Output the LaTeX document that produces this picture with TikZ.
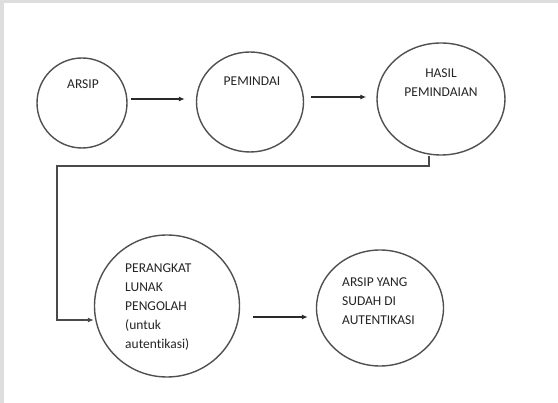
\documentclass[tikz,border=0pt]{standalone}
\usepackage{fontspec}
\setmainfont[Ligatures=NoCommon]{Carlito}
\usetikzlibrary{shapes.geometric,arrows.meta}
\definecolor{circgray}{HTML}{505050}
\definecolor{txtgray}{HTML}{252525}
\definecolor{arrgray}{HTML}{2A2A2A}
\definecolor{framegray}{HTML}{DEDEDE}
\begin{document}
\begin{tikzpicture}[x=1pt,y=-1pt,
  circ/.style={ellipse,draw=circgray,line width=1.4pt,inner sep=0pt},
  lbl/.style={inner sep=0pt,text=txtgray,font=\fontsize{13.5}{19}\selectfont},
  arr/.style={draw=arrgray,line width=1.6pt,-{Latex[length=6pt,width=5pt]}},
  link/.style={draw=arrgray!85,line width=1.8pt,-{Latex[length=6pt,width=5pt]}}]
\useasboundingbox (0,0) rectangle (558,403);
\fill[white] (0,0) rectangle (558,403);
\fill[framegray] (0,0) rectangle (558,3);
\fill[framegray] (0,0) rectangle (4,403);

% circles
\node[circ,minimum width=90pt,minimum height=90pt] (arsip) at (82,103) {};
\node[circ,minimum width=107pt,minimum height=100pt] (pemindai) at (250,102) {};
\node[circ,minimum width=128pt,minimum height=112pt] (hasil) at (441,99) {};
\node[circ,minimum width=145pt,minimum height=142pt] (perangkat) at (167,306) {};
\node[circ,minimum width=127pt,minimum height=116pt] (sudah) at (380,308) {};

% texts
\node[lbl,anchor=north] (tarsip) at (83,79.7) {ARSIP};
\node[lbl,anchor=north] (tpemindai) at (252,76.7) {PEMINDAI};
\node[lbl,anchor=north,align=center] (thasil) at (441,68.7) {HASIL\\PEMINDAIAN};
\node[lbl,anchor=north west,align=left] (tperangkat) at (125,263.7) {PERANGKAT\\LUNAK\\PENGOLAH\\(untuk\\autentikasi)};
\node[lbl,anchor=north west,align=left] (tsudah) at (342,277.7) {ARSIP YANG\\SUDAH DI\\AUTENTIKASI};

% connectors
\draw[arr] ([xshift=3pt,yshift=4pt]arsip.east) -- ([xshift=-11pt,yshift=3pt]pemindai.west);
\draw[arr] ([xshift=7pt,yshift=5pt]pemindai.east) -- ([xshift=-10pt,yshift=2pt]hasil.west);
\coordinate (bend) at (57,166);
\draw[link] ([xshift=-12pt]hasil.south) |- (bend) |- ([yshift=-14pt]perangkat.west);
\draw[arr] ([xshift=13pt,yshift=-11pt]perangkat.east) -- ([xshift=-8pt,yshift=-9pt]sudah.west);
\end{tikzpicture}
\end{document}
